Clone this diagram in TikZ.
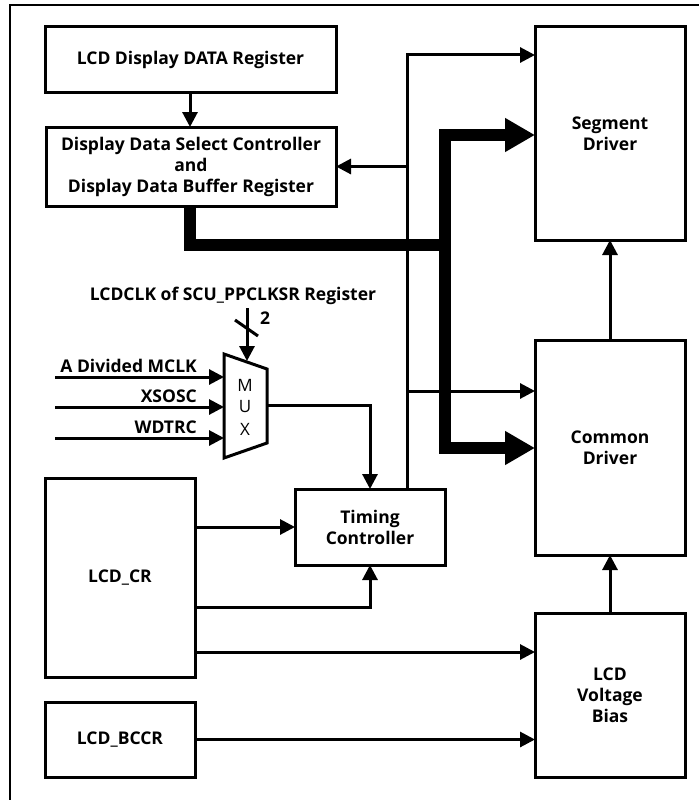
\documentclass[tikz,border=0pt]{standalone}
\usepackage{fontspec}
\setmainfont{Open Sans}
\usetikzlibrary{arrows.meta,calc}
\begin{document}
\begin{tikzpicture}[x=1pt,y=-1pt,
  every node/.style={font=\fontsize{17.5}{21}\selectfont\bfseries},
  blk/.style={draw,line width=3pt,inner sep=0pt,outer sep=0pt,align=center},
  ln/.style={line width=3pt},
  arr/.style={line width=3pt,-{Triangle[length=15pt,width=15pt]}},
  bus/.style={line width=12pt},
  busarr/.style={line width=12pt,-{Triangle[length=30pt,width=32pt]}},
  lbl/.style={inner sep=0pt}]
\useasboundingbox (0,0) rectangle (699,800);
\draw[line width=1.5pt] (10,800) -- (10,5) -- (699,5);

% blocks
\node[blk,minimum width=291pt,minimum height=65pt] (dreg) at (190.5,59.5) {LCD Display DATA Register};
\node[blk,minimum width=290pt,minimum height=79pt] (dsel) at (191,166.5) {Display Data Select Controller\\and\\Display Data Buffer Register};
\node[blk,minimum width=150pt,minimum height=213pt] (seg) at (610,133.5) {Segment\\Driver};
\node[blk,minimum width=150pt,minimum height=215pt] (com) at (610,447.5) {Common\\Driver};
\node[blk,minimum width=150pt,minimum height=164pt] (bias) at (610,695) {LCD\\Voltage\\Bias};
\node[blk,minimum width=150pt,minimum height=76pt] (tc) at (370,527) {Timing\\Controller};
\node[blk,minimum width=150pt,minimum height=199pt] (cr) at (120,577.5) {LCD\_CR};
\node[blk,minimum width=150pt,minimum height=75pt] (bccr) at (120,739.5) {LCD\_BCCR};

% MUX
\draw[ln,line join=miter] (224,354) -- (267,369) -- (267,443) -- (224,458) -- cycle;
\node[font=\fontsize{17}{18}\selectfont] (mm) at (245,385) {M};
\node[font=\fontsize{17}{18}\selectfont] (mu) at (245,407) {U};
\node[font=\fontsize{17}{18}\selectfont] (mx) at (245,429) {X};
\coordinate (mi1) at (224,377);
\coordinate (mi2) at (224,407);
\coordinate (mi3) at (224,438);
\coordinate (mo) at (267,405);
\coordinate (mtop) at (247,361);
\coordinate (s1) at (55,377);
\coordinate (s2) at (55,407);
\coordinate (s3) at (55,438);
\coordinate (sel) at (247,308);

\draw[arr] (s1) -- (mi1);
\draw[arr] (s2) -- (mi2);
\draw[arr] (s3) -- (mi3);
\node[lbl,anchor=base east] (l1) at (197,372) {A Divided MCLK};
\node[lbl,anchor=base east] (l2) at (197,402) {XSOSC};
\node[lbl,anchor=base east] (l3) at (197,433) {WDTRC};
\node[lbl] (lsel) at (233,296) {LCDCLK of SCU\_PPCLKSR Register};
\draw[arr] (sel) -- (mtop);
\draw[ln] (235,320) -- (258,336);
\node[lbl] (two) at (265,318) {2};

% register path
\draw[arr] (dreg.south -| 190,0) -- (dsel.north -| 190,0);

% bus
\draw[bus,line join=miter] (dsel.south -| 190,0) |- (445,245) -- (445,140);
\draw[busarr] (445,141) |- (seg.west |- 0,135);
\draw[busarr] (445,245) |- (com.west |- 0,448);

% thin network from timing controller
\coordinate (tco) at ([xshift=-38pt]tc.north east);
\draw[arr] (tco) |- (seg.west |- 0,55);
\draw[arr] (407,166.5) -- (dsel.east);
\draw[arr] (407,391) -- (com.west |- 0,391);
\fill (399,240) arc[start angle=180,end angle=0,radius=8] -- cycle;

\draw[arr] (com.north) -- (seg.south);
\draw[arr] (bias.north) -- (com.south);

\draw[arr] (mo) -| (tc.north);
\draw[arr] (cr.east |- tc.west) -- (tc.west);
\draw[arr] (cr.east |- 0,607) -| (tc.south);
\draw[arr] (cr.east |- 0,652) -- (bias.west |- 0,652);
\draw[arr] (bccr.east) -- (bccr.east -| bias.west);
\end{tikzpicture}
\end{document}
